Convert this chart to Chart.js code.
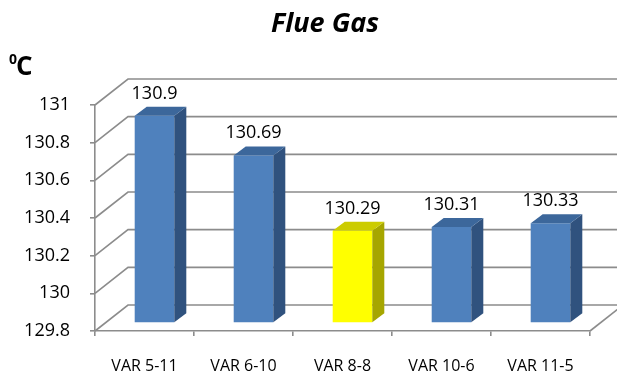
<!DOCTYPE html>
<html>
<head>
<meta charset="utf-8">
<style>
  html, body { margin: 0; padding: 0; background: #ffffff; }
  #wrap { width: 617px; height: 372px; }
</style>
<script src="https://cdn.jsdelivr.net/npm/chart.js@4/dist/chart.umd.min.js"></script>
</head>
<body>
<div id="wrap"><canvas id="c" width="617" height="372"></canvas></div>
<script>
// ---- data ----
const categories = ['VAR 5-11', 'VAR 6-10', 'VAR 8-8', 'VAR 10-6', 'VAR 11-5'];
const flueGas = [130.9, 130.69, 130.29, 130.31, 130.33];
const highlighted = ['VAR 8-8'];
const yTickLabels = ['129.8', '130', '130.2', '130.4', '130.6', '130.8', '131'];
const yMin = 129.8;
const yMax = 131;
const yStep = 0.2;
const chartTitle = 'Flue Gas';
const unitMain = 'C';
const unitSup = '0';

// ---- style ----
const FONT = "'Open Sans', 'Liberation Sans', sans-serif";
const GRID = '#8c8c8c';
const PLANE = { dx: 10, dy: -8 };     // bar front plane offset from front axis
const DEPTH = { dx: 12, dy: -9 };     // bar depth
const WALL = { dx: 33, dy: -26 };     // back wall offset from front axis
const palette = {
  normal: { front: '#4f81bd', side: '#30527e', top: '#3c679b' },
  hi:     { front: '#ffff00', side: '#a6a600', top: '#cccc00' }
};
const styleFor = (i) => highlighted.includes(categories[i]) ? palette.hi : palette.normal;

const threeD = {
  id: 'threeD',
  beforeDatasetsDraw(chart) {
    const ctx = chart.ctx;
    const y = chart.scales.y;
    const a = chart.chartArea;
    ctx.save();
    ctx.strokeStyle = GRID;
    ctx.lineWidth = 1.6;
    ctx.lineCap = 'butt';
    y.ticks.forEach(t => {
      const py = y.getPixelForValue(t.value);
      ctx.beginPath();
      ctx.moveTo(a.left, py);
      ctx.lineTo(a.left + WALL.dx, py + WALL.dy);
      ctx.lineTo(chart.width + 5, py + WALL.dy);
      ctx.stroke();
    });
    // floor right edge
    ctx.beginPath();
    ctx.moveTo(a.right, a.bottom);
    ctx.lineTo(a.right + WALL.dx, a.bottom + WALL.dy);
    ctx.stroke();
    ctx.restore();
    // shift bar front faces into their depth plane
    ctx.save();
    ctx.translate(PLANE.dx, PLANE.dy);
  },
  afterDatasetsDraw(chart) {
    const ctx = chart.ctx;
    ctx.restore();
    const meta = chart.getDatasetMeta(0);
    ctx.save();
    meta.data.forEach((bar, i) => {
      const p = bar.getProps(['x', 'y', 'base', 'width'], true);
      const l = p.x - p.width / 2 + PLANE.dx;
      const r = p.x + p.width / 2 + PLANE.dx;
      const top = p.y + PLANE.dy;
      const bot = p.base + PLANE.dy;
      const s = styleFor(i);
      ctx.fillStyle = s.side;
      ctx.beginPath();
      ctx.moveTo(r, top);
      ctx.lineTo(r + DEPTH.dx, top + DEPTH.dy);
      ctx.lineTo(r + DEPTH.dx, bot + DEPTH.dy);
      ctx.lineTo(r, bot);
      ctx.closePath();
      ctx.fill();
      ctx.fillStyle = s.top;
      ctx.beginPath();
      ctx.moveTo(l, top);
      ctx.lineTo(l + DEPTH.dx, top + DEPTH.dy);
      ctx.lineTo(r + DEPTH.dx, top + DEPTH.dy);
      ctx.lineTo(r, top);
      ctx.closePath();
      ctx.fill();
      // value label
      ctx.fillStyle = '#000000';
      ctx.font = '18px ' + FONT;
      ctx.textAlign = 'center';
      ctx.textBaseline = 'alphabetic';
      ctx.fillText(String(flueGas[i]), (l + r) / 2, top + DEPTH.dy - 8);
    });
    ctx.restore();
  },
  afterDraw(chart) {
    const ctx = chart.ctx;
    ctx.save();
    ctx.fillStyle = '#000000';
    ctx.textBaseline = 'alphabetic';
    // title
    ctx.textAlign = 'center';
    ctx.font = 'italic bold 27px ' + FONT;
    ctx.fillText(chartTitle, 325, 32);
    // unit label
    ctx.textAlign = 'left';
    ctx.font = 'bold 14px ' + FONT;
    ctx.fillText(unitSup, 9, 64);
    ctx.font = 'bold 26px ' + FONT;
    ctx.fillText(unitMain, 16, 75);
    ctx.restore();
  }
};

new Chart(document.getElementById('c'), {
  type: 'bar',
  data: {
    labels: categories,
    datasets: [{
      data: flueGas,
      base: yMin,
      backgroundColor: categories.map((c, i) => styleFor(i).front),
      borderWidth: 0,
      categoryPercentage: 1,
      barPercentage: 0.4
    }]
  },
  options: {
    responsive: false,
    animation: false,
    devicePixelRatio: 1,
    layout: { padding: { left: 0, right: 27, top: 105, bottom: 0 } },
    plugins: {
      legend: { display: false },
      tooltip: { enabled: false },
      title: { display: false }
    },
    scales: {
      x: {
        grid: { offset: true, drawOnChartArea: false, drawTicks: true, tickLength: 5, color: GRID, lineWidth: 1.6 },
        border: { display: true, color: GRID, width: 1.6 },
        ticks: { color: '#000000', font: { family: FONT, size: 16 }, padding: 21, maxRotation: 0, autoSkip: false },
        afterFit: (s) => { s.height = 41; }
      },
      y: {
        min: yMin,
        max: yMax,
        grid: { drawOnChartArea: false, drawTicks: true, tickLength: 5, color: GRID, lineWidth: 1.6 },
        border: { display: true, color: GRID, width: 1.6 },
        ticks: {
          stepSize: yStep, color: '#000000', font: { family: FONT, size: 18 }, padding: 20,
          callback: (v, i) => yTickLabels[i]
        },
        afterFit: (s) => { s.width = 95; }
      }
    }
  },
  plugins: [threeD]
});
</script>
</body>
</html>
